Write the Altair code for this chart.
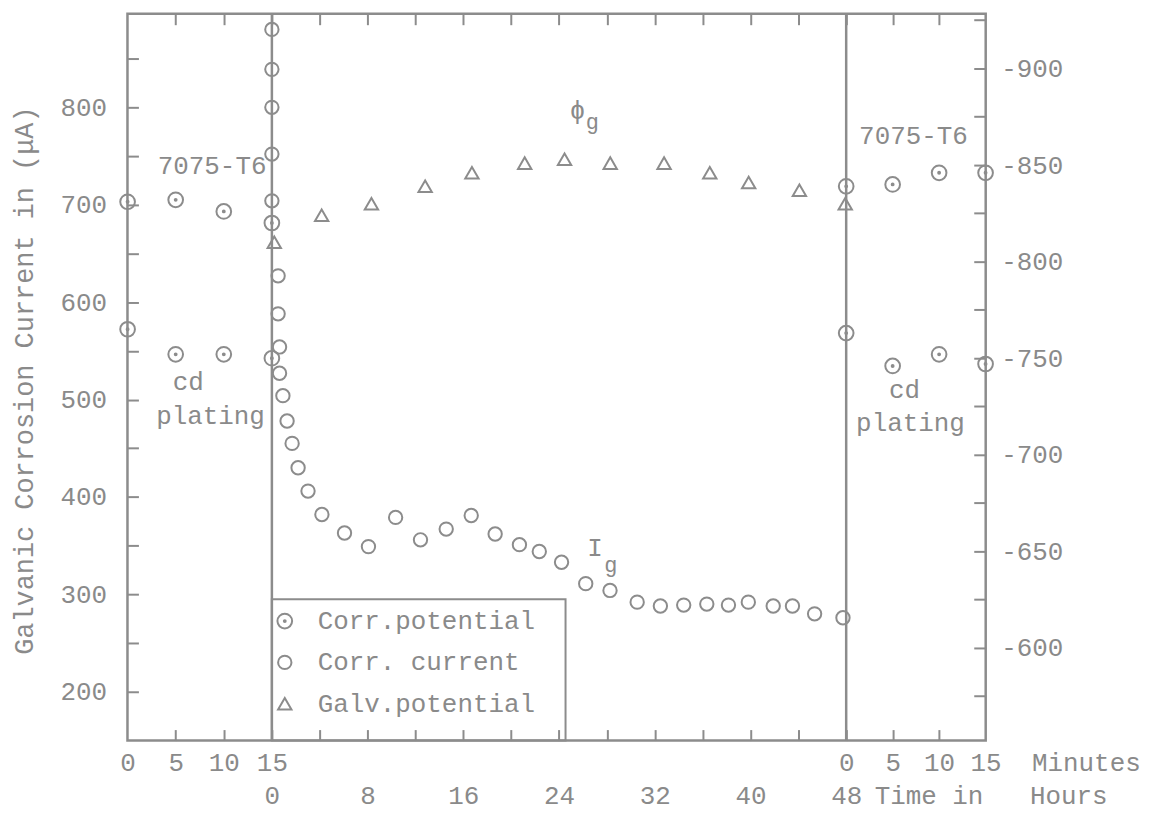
import altair as alt
import pandas as pd

GRAY = "#8c8c8c"
TXT = "#8a8a8a"
MONO = "Liberation Mono, DejaVu Sans Mono, monospace"

SERIES = ["Corr.potential", "Corr. current", "Galv.potential"]

# ---------------- data ----------------
# Galvanic corrosion current (uA), hours after coupling
cur_hours = [0, 0, 0, 0, 0,
             0.52, 0.52, 0.64, 0.64, 0.92, 1.27, 1.69, 2.19, 3.02, 4.18, 6.07, 8.07,
             10.34, 12.42, 14.57, 16.66, 18.66, 20.69, 22.35, 24.21, 26.23, 28.26,
             30.53, 32.47, 34.42, 36.35, 38.16, 39.82, 41.90, 43.51, 45.36, 47.73]
cur_uA = [880, 839, 800, 752, 704,
          627, 588, 554, 527, 504, 478, 455, 430, 406, 382, 363, 349,
          379, 356, 367, 381, 362, 351, 344, 333, 311, 304,
          292, 288, 289, 290, 289, 292, 288, 288, 280, 276]

# Corrosion potential (mV), uncoupled metals, minutes (before / after coupling)
pot_minutes = [0, 5, 10, 15]
pot_before_7075 = [-831, -832, -826, -820]
pot_before_cd = [-765, -752, -752, -750]
pot_after_7075 = [-839, -840, -846, -846]
pot_after_cd = [-763, -746, -752, -747]

# Galvanic potential (mV), hours after coupling
galv_hours = [0.2, 4.16, 8.32, 12.81, 16.72, 21.13, 24.46, 28.28, 32.78, 36.6, 39.85, 44.09, 47.92]
galv_mV = [-810, -824, -830, -839, -846, -851, -853, -851, -851, -846, -841, -837, -830]

# tick labels
left_labels = [200, 300, 400, 500, 600, 700, 800]
left_ticks = list(range(200, 851, 50))
right_labels = [-900, -850, -800, -750, -700, -650, -600]
right_ticks = list(range(-925, -574, 25))
hour_labels = [0, 8, 16, 24, 32, 40, 48]
hour_ticks = list(range(0, 49, 4))
minute_labels = [0, 5, 10, 15]
minute_ticks = [5, 10]
divider_hours = [0, 48]

# annotations (text, position on time axis, position on current axis, font size)
ann_text = ["7075-T6", "cd", "plating", "7075-T6", "cd", "plating", "ϕ", "g", "I", "g"]
ann_time = [-9.54, -8.29, -9.67, 49.08, 51.58, 48.83, 24.89, 26.24, 26.35, 27.78]
ann_val = [731.2, 509.7, 475.0, 762.2, 501.5, 467.8, 787.7, 777.5, 339.0, 322.7]
ann_fs = [26, 26, 26, 26, 26, 26, 26, 22, 26, 22]

# ---------------- composite time axis ----------------
# left block: minutes 0-15, middle: hours 0-48, right block: minutes 0-15
TL, SL = -12.06, 12.06 / 15
SR = 11.65 / 15


def left_min(m):
    return TL + m * SL


def right_min(m):
    return 48 + m * SR


W, H = 862, 730
xscale = alt.Scale(domain=[-12.07, 59.66], nice=False, zero=False)
cur_scale = alt.Scale(domain=[149.9, 896.1], nice=False, zero=False)
pot_scale = alt.Scale(domain=[-928.35, -552.06], nice=False, zero=False, reverse=True)

DOT = ("M-1.1,0A1.1,1.1,0,1,1,1.1,0A1.1,1.1,0,1,1,-1.1,0Z"
       "M-0.14,0A0.14,0.14,0,1,1,0.14,0A0.14,0.14,0,1,1,-0.14,0Z")
shape_scale = alt.Scale(domain=SERIES, range=[DOT, "circle", "triangle-up"])

# invisible bottom title only widens / deepens the legend box
LEG = alt.Legend(
    orient="none", legendX=145, legendY=588, title="X" * 36, titleOrient="bottom",
    titleOpacity=0, titleLimit=600, titleFontSize=12.8, titleFont=MONO, titlePadding=2,
    padding=9, rowPadding=15.5,
    symbolOffset=-9, labelOffset=20, labelLimit=400,
    labelFont=MONO, labelFontSize=26, labelColor=TXT,
    symbolSize=180, symbolStrokeWidth=2, symbolStrokeColor=GRAY,
    symbolFillColor="transparent", strokeColor=GRAY,
)

cur_df = pd.DataFrame({"t": cur_hours, "v": cur_uA, "series": "Corr. current"})
pot_rows = []
for m, a, c in zip(pot_minutes, pot_before_7075, pot_before_cd):
    pot_rows += [(left_min(m), a), (left_min(m), c)]
for m, a, c in zip(pot_minutes, pot_after_7075, pot_after_cd):
    pot_rows += [(right_min(m), a), (right_min(m), c)]
pot_df = pd.DataFrame(pot_rows, columns=["t", "v"])
pot_df["series"] = "Corr.potential"
galv_df = pd.DataFrame({"t": galv_hours, "v": galv_mV, "series": "Galv.potential"})
ann_df = pd.DataFrame({"text": ann_text, "t": ann_time, "v": ann_val, "fs": ann_fs})
div_df = pd.DataFrame({"t": divider_hours})

min_label_pos = [left_min(m) for m in minute_labels] + [right_min(m) for m in minute_labels]
x_tick_pos = [left_min(m) for m in minute_ticks] + hour_ticks + [right_min(m) for m in minute_ticks]

lab = dict(labelFont=MONO, labelFontSize=26, labelColor=TXT, ticks=False, tickSize=0,
           domain=False, grid=False, labelFlush=False, labelOverlap=False)
tick = dict(labels=False, domain=False, grid=False, ticks=True, tickWidth=2,
            tickColor=GRAY, title=None)
ttl = dict(titleFont=MONO, titleFontSize=26, titleFontWeight="normal", titleColor=TXT)

min_expr = (f"format(round(datum.value < 24 ? (datum.value - ({TL})) / {SL} "
            f": (datum.value - 48) / {SR}), 'd')")

pt = dict(filled=False, strokeWidth=2, color=GRAY, size=180, opacity=1)

rules = alt.Chart(div_df).mark_rule(color=GRAY, strokeWidth=2.5).encode(
    x=alt.X("t:Q", scale=xscale, axis=None)
)

cur = alt.Chart(cur_df).mark_point(**pt).encode(
    x=alt.X("t:Q", scale=xscale, axis=alt.Axis(
        orient="bottom", values=min_label_pos, labelExpr=min_expr, labelPadding=30,
        labelBaseline="alphabetic", title="Minutes", titleX=908, titleY=30,
        titleAlign="left", titleBaseline="alphabetic", **ttl, **lab)),
    y=alt.Y("v:Q", scale=cur_scale, axis=alt.Axis(
        orient="left", values=left_labels, format="d", labelPadding=21,
        title="Galvanic Corrosion Current in (μA)", titleX=-103, titleY=368,
        titleAngle=270, titleAlign="center", titleBaseline="middle",
        titleFont=MONO, titleFontSize=27, titleFontWeight="normal", titleColor=TXT, **lab)),
    shape=alt.Shape("series:N", scale=shape_scale, legend=LEG),
)

pot = alt.Chart(pot_df).mark_point(**pt).encode(
    x=alt.X("t:Q", scale=xscale, axis=alt.Axis(
        orient="bottom", values=hour_labels, format="d", labelPadding=63,
        labelBaseline="alphabetic", title="Time in\u00a0\u00a0\u00a0Hours", titleX=750,
        titleY=63, titleAlign="left", titleBaseline="alphabetic", **ttl, **lab)),
    y=alt.Y("v:Q", scale=pot_scale, axis=alt.Axis(
        orient="right", values=right_labels, labelPadding=15,
        labelExpr="'-' + format(abs(datum.value), 'd')", title=None, **lab)),
    shape=alt.Shape("series:N", scale=shape_scale, legend=LEG),
)

galv = alt.Chart(galv_df).mark_point(**pt).encode(
    x=alt.X("t:Q", scale=xscale, axis=alt.Axis(
        orient="top", offset=-H, values=x_tick_pos, tickSize=11, **tick)),
    y=alt.Y("v:Q", scale=pot_scale, axis=alt.Axis(
        orient="left", offset=-W, values=right_ticks, tickSize=12, **tick)),
    shape=alt.Shape("series:N", scale=shape_scale, legend=LEG),
)

ann = alt.Chart(ann_df).mark_text(align="left", baseline="alphabetic", font=MONO, color=TXT).encode(
    x=alt.X("t:Q", scale=xscale, axis=alt.Axis(
        orient="bottom", offset=-H, values=x_tick_pos, tickSize=11, **tick)),
    y=alt.Y("v:Q", scale=cur_scale, axis=alt.Axis(
        orient="right", offset=-W, values=left_ticks, tickSize=11, **tick)),
    text="text:N",
    size=alt.Size("fs:Q", scale=None, legend=None),
)

chart = (
    alt.layer(rules, cur, pot, galv, ann)
    .resolve_scale(y="independent")
    .resolve_axis(x="independent", y="independent")
    .properties(
        width=W, height=H,
        autosize=alt.AutoSizeParams(type="none"),
        padding={"left": 120, "top": 4, "right": 158, "bottom": 70},
        background="white",
    )
    .configure_view(stroke=GRAY, strokeWidth=2.5)
    .configure_legend(strokeWidth=2)
)

chart.save("out.html", embed_options={"renderer": "svg", "actions": False})
